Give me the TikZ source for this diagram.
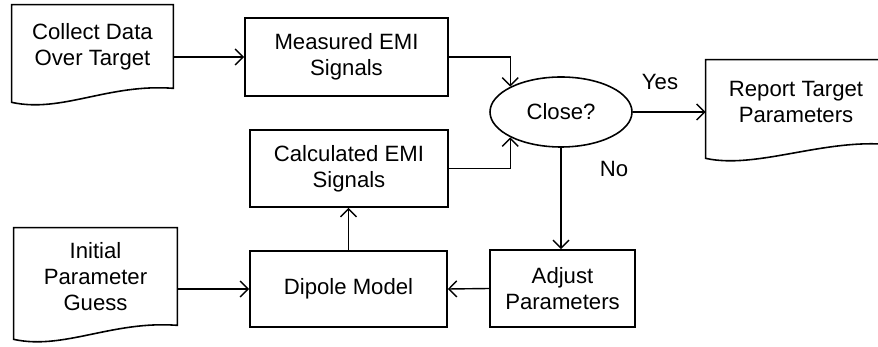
\documentclass[tikz,border=0pt]{standalone}
\usepackage{fontspec}
\setmainfont{Liberation Sans}
\usetikzlibrary{shapes.geometric,arrows.meta,calc}

\newcommand{\docoutline}[1]{%
  \draw[boxline] (#1.north west) -- (#1.north east) -- (#1.south east)
    .. controls ([xshift=-1.3cm,yshift=0.1cm]#1.south east) and ([xshift=1cm,yshift=-0.5cm]#1.south west)
    .. ([yshift=-0.28cm]#1.south west) -- cycle;}

\begin{document}
\begin{tikzpicture}[
  font=\fontsize{12.6}{14.8}\selectfont,
  boxline/.style={line width=0.9pt},
  stepbox/.style={draw, boxline, shape=rectangle, align=center, inner sep=0pt},
  docbox/.style={shape=rectangle, align=center, inner sep=0pt},
  decision/.style={draw, boxline, shape=ellipse, inner sep=0pt, minimum width=2.84cm, minimum height=1.4cm},
  flow/.style={line width=0.8pt, -{Straight Barb[length=1.6mm,width=3.2mm]}}]
\clip (0,0) rectangle (17.56,-6.94);
\draw (1.85,-0.93) node[docbox, minimum width=3.22cm, minimum height=1.66cm] (collect) {Collect Data\\Over Target};
\draw (1.91,-5.53) node[docbox, minimum width=3.26cm, minimum height=1.94cm] (initial) {Initial\\Parameter\\Guess};
\draw (15.92,-2.04) node[docbox, minimum width=3.6cm, minimum height=1.68cm] (report) {Report Target\\Parameters};
\docoutline{collect}
\docoutline{initial}
\docoutline{report}
\draw (6.93,-1.14) node[stepbox, minimum width=4.06cm, minimum height=1.56cm] (measured) {Measured EMI\\Signals};
\draw (6.98,-3.37) node[stepbox, minimum width=3.96cm, minimum height=1.54cm] (calc) {Calculated EMI\\Signals};
\draw (6.97,-5.78) node[stepbox, minimum width=3.94cm, minimum height=1.52cm] (dipole) {Dipole Model};
\draw (11.25,-5.77) node[stepbox, minimum width=2.9cm, minimum height=1.54cm] (adjust) {Adjust\\Parameters};
\draw (11.22,-2.24) node[decision] (close) {Close?};
\draw (13.2,-1.63) node (yes) {Yes};
\draw (12.28,-3.37) node (no) {No};
\draw[flow] (collect.east |- measured.west) -- (measured.west);
\draw[flow] (measured.east) -| (close.north west);
\draw[flow] (calc.east) -| (close.south west);
\draw[flow] (close.east) -- (close.east -| report.west);
\draw[flow] (close.south) -- (close.south |- adjust.north);
\draw[flow] (adjust.west) -- (dipole.east);
\draw[flow] (dipole.north) -- (dipole.north |- calc.south);
\draw[flow] (initial.east |- dipole.west) -- (dipole.west);
\end{tikzpicture}
\end{document}
